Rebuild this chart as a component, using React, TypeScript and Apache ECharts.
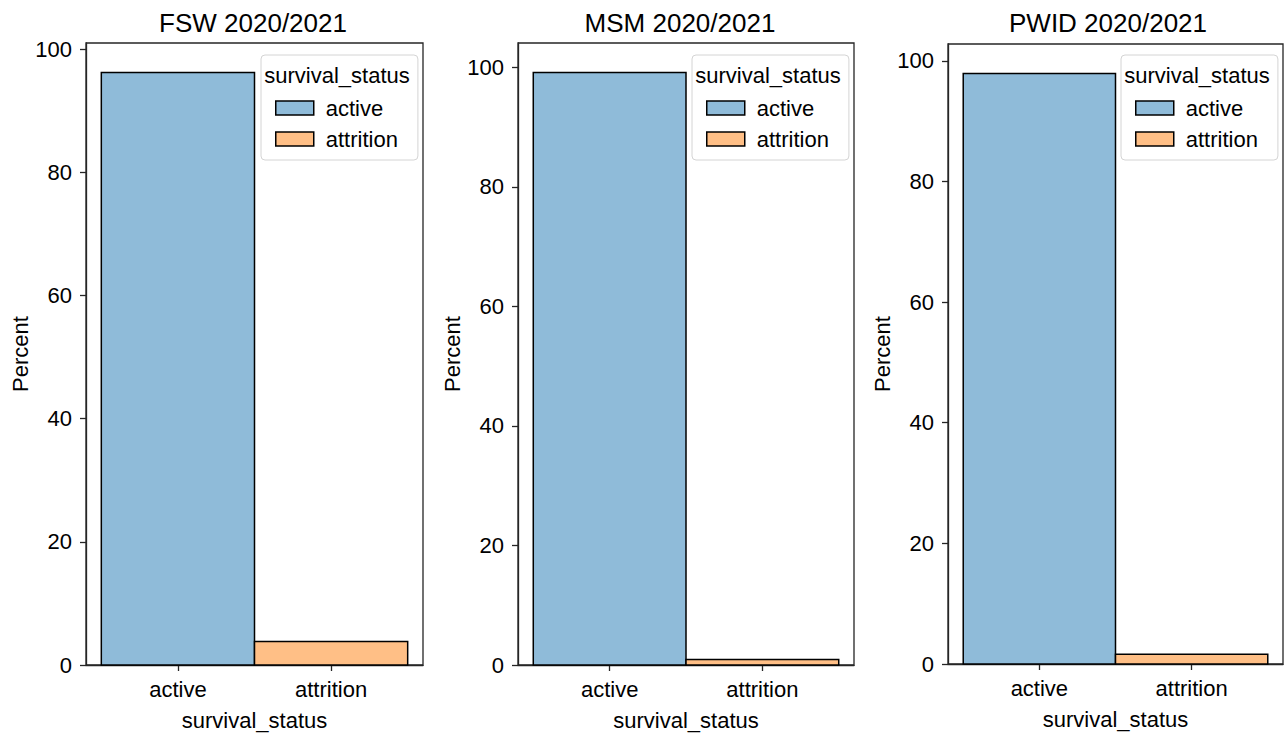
import React, { useEffect, useRef } from "react";
import * as echarts from "echarts";

const categories = ["active", "attrition"];
const panelTitles = ["FSW 2020/2021", "MSM 2020/2021", "PWID 2020/2021"];
const activeValues = [96.2, 99.1, 97.9];
const attritionValues = [3.8, 0.9, 1.6];
const yTicks = [0, 20, 40, 60, 80, 100];
const xTicks = [0, 1];
const legendTitle = "survival_status";
const axisXName = "survival_status";
const axisYName = "Percent";

const COLORS = ["#8FBBD9", "#FFBF86"];
const FONT = "Liberation Sans, Arial, sans-serif";
const SPINE = "#262626";
const FS = 22;

const grids = [
  { left: 86, top: 43, width: 337, height: 622 },
  { left: 518, top: 43, width: 336, height: 622 },
  { left: 948, top: 44, width: 335, height: 620 },
];
const titleCenters = [253, 680, 1108];

export default function App() {
  const ref = useRef<HTMLDivElement>(null);
  useEffect(() => {
    if (!ref.current) return;
    const chart = echarts.init(ref.current, null, { renderer: "svg" });

    const xAxis: any[] = [];
    const yAxis: any[] = [];
    const series: any[] = [];
    const legend: any[] = [];
    const title: any[] = [];
    const graphic: any[] = [];

    grids.forEach((g, i) => {
      const maxVal = Math.max(activeValues[i], attritionValues[i]) * 1.05;
      xAxis.push({
        type: "value",
        gridIndex: i,
        min: -0.6,
        max: 1.6,
        splitLine: { show: false },
        axisLine: { show: true, onZero: false, lineStyle: { color: SPINE, width: 1.3 } },
        axisTick: { show: true, customValues: xTicks, length: 6, lineStyle: { color: SPINE, width: 1.3 } },
        axisLabel: {
          customValues: xTicks,
          formatter: (v: number) => categories[Math.round(v)] ?? "",
          color: "#000",
          fontSize: FS,
          fontFamily: FONT,
          margin: 13,
        },
        name: axisXName,
        nameLocation: "middle",
        nameGap: 44,
        nameTextStyle: { color: "#000", fontSize: FS, fontFamily: FONT },
      });
      yAxis.push({
        type: "value",
        gridIndex: i,
        min: 0,
        max: maxVal,
        splitLine: { show: false },
        axisLine: { show: true, onZero: false, lineStyle: { color: SPINE, width: 1.3 } },
        axisTick: { show: true, customValues: yTicks, length: 6, lineStyle: { color: SPINE, width: 1.3 } },
        axisLabel: {
          customValues: yTicks,
          color: "#000",
          fontSize: FS,
          fontFamily: FONT,
          margin: 14,
        },
        name: axisYName,
        nameLocation: "middle",
        nameGap: 55,
        nameTextStyle: { color: "#000", fontSize: FS, fontFamily: FONT },
      });
      const vals = [activeValues[i], attritionValues[i]];
      categories.forEach((c, ci) => {
        series.push({
          type: "custom",
          name: c,
          xAxisIndex: i,
          yAxisIndex: i,
          encode: { x: 0, y: 1 },
          data: [[ci, vals[ci]]],
          itemStyle: { color: COLORS[ci], borderColor: "#000", borderWidth: 1.5 },
          renderItem: (params: any, api: any) => {
            const x = api.value(0);
            const v = api.value(1);
            const p0 = api.coord([x - 0.5, v]);
            const p1 = api.coord([x + 0.5, 0]);
            return {
              type: "rect",
              shape: { x: p0[0], y: p0[1], width: p1[0] - p0[0], height: p1[1] - p0[1] },
              style: { fill: COLORS[ci], stroke: "#000", lineWidth: 1.5 },
            };
          },
        });
      });
      const right = g.left + g.width;
      const boxLeft = right - 162;
      legend.push({
        orient: "vertical",
        left: boxLeft,
        top: 55,
        icon: "rect",
        itemWidth: 38,
        itemHeight: 14,
        itemGap: 9,
        selectedMode: false,
        backgroundColor: "rgba(255,255,255,0.8)",
        borderColor: "#d4d4d4",
        borderWidth: 1,
        borderRadius: 4,
        padding: [42, 20, 10, 14],
        textStyle: { color: "#000", fontSize: FS, fontFamily: FONT, padding: [0, 0, 0, 7] },
        data: categories.map((c, ci) => ({
          name: c,
          itemStyle: { color: COLORS[ci], borderColor: "#000", borderWidth: 1.5 },
        })),
      });
      graphic.push({
        type: "text",
        z: 100,
        x: boxLeft + 76,
        y: 75,
        style: {
          text: legendTitle,
          fill: "#000",
          fontSize: FS,
          fontFamily: FONT,
          textAlign: "center",
          textVerticalAlign: "middle",
        },
      });
      title.push({
        text: panelTitles[i],
        left: titleCenters[i],
        top: 10,
        padding: 0,
        textAlign: "center",
        textStyle: { color: "#000", fontSize: 26, fontWeight: "normal", fontFamily: FONT },
      });
    });

    chart.setOption({
      animation: false,
      backgroundColor: "#fff",
      title,
      grid: grids.map((g) => ({
        ...g,
        show: true,
        borderColor: SPINE,
        borderWidth: 1.3,
        backgroundColor: "transparent",
        containLabel: false,
        outerBoundsMode: "none",
      })),
      xAxis,
      yAxis,
      legend,
      series,
      graphic,
    });
    return () => chart.dispose();
  }, []);
  return (
    <div
      ref={ref}
      style={{ position: "fixed", left: 0, top: 0, width: 1285, height: 734, background: "#fff" }}
    />
  );
}
